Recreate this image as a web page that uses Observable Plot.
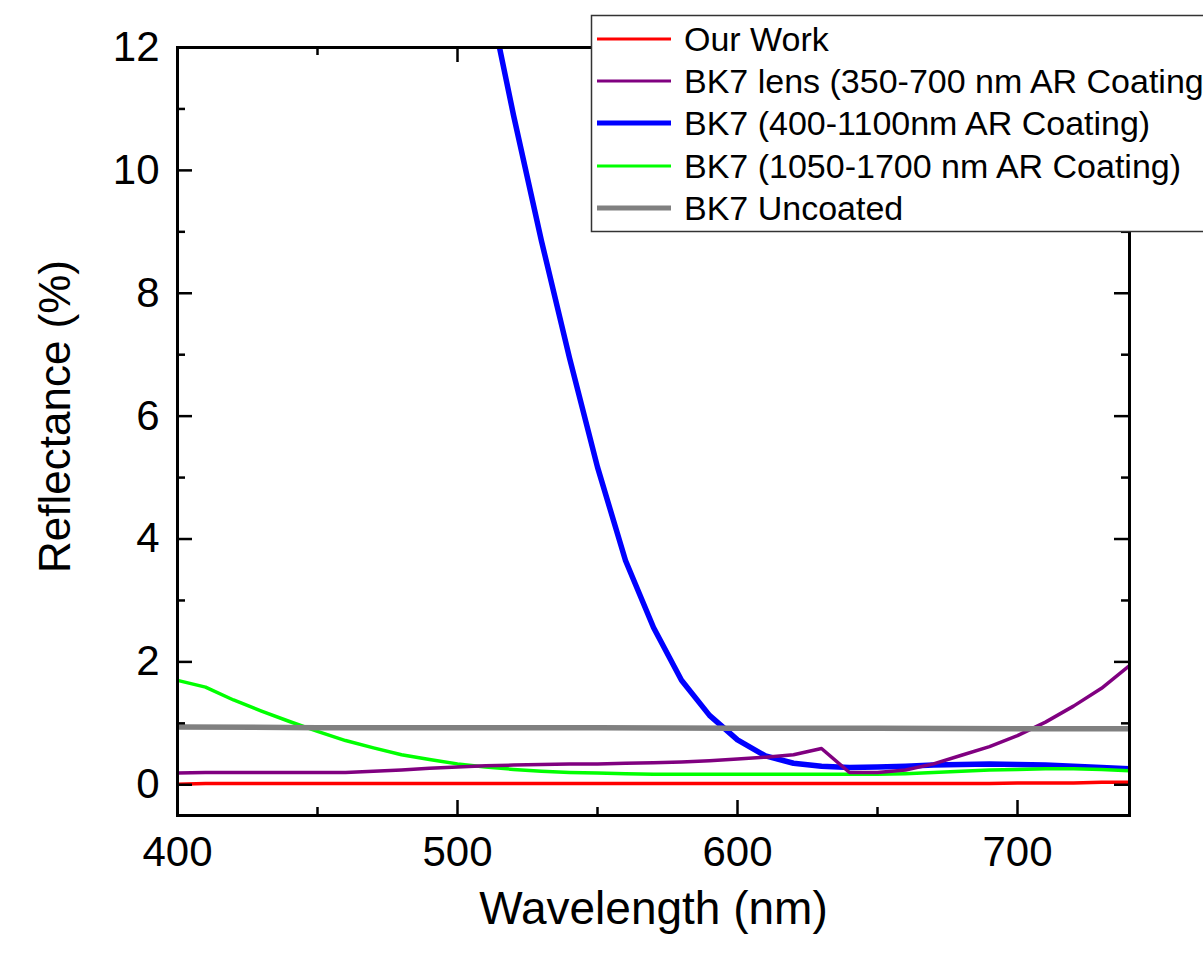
<!DOCTYPE html>
<html><head><meta charset="utf-8">
<script src="https://cdn.jsdelivr.net/npm/d3@7"></script>
<script src="https://cdn.jsdelivr.net/npm/@observablehq/plot@0.6"></script>
<style>
body{margin:0;background:#fff;overflow:hidden;}
#wrap{position:relative;width:1203px;height:954px;overflow:hidden;}
#wrap svg{position:absolute;left:0;top:0;}
</style></head><body><div id="wrap"></div>
<script>
// ---- data ----
const wavelengths = [400,410,420,430,440,450,460,470,480,490,500,510,520,530,540,550,560,570,580,590,600,610,620,630,640,650,660,670,680,690,700,710,720,730,740];
const ourWork = [0.01,0.02,0.02,0.02,0.02,0.02,0.02,0.02,0.02,0.02,0.02,0.02,0.02,0.02,0.02,0.02,0.02,0.02,0.02,0.02,0.02,0.02,0.02,0.02,0.02,0.02,0.02,0.02,0.02,0.02,0.03,0.03,0.03,0.04,0.04];
const lens350_700 = [0.19,0.20,0.20,0.20,0.20,0.20,0.20,0.22,0.24,0.27,0.29,0.31,0.32,0.33,0.34,0.34,0.35,0.36,0.37,0.39,0.42,0.45,0.49,0.59,0.20,0.20,0.24,0.34,0.48,0.62,0.80,1.02,1.28,1.57,1.94];
const ar1050_1700 = [1.70,1.59,1.38,1.20,1.03,0.87,0.72,0.60,0.49,0.41,0.34,0.29,0.25,0.22,0.20,0.19,0.18,0.17,0.17,0.17,0.17,0.17,0.17,0.17,0.17,0.17,0.18,0.20,0.22,0.24,0.25,0.26,0.26,0.25,0.23];
const ar400_1100Wl = [510,520,530,540,550,560,570,580,590,600,610,620,630,640,650,660,670,680,690,700,710,720,730,740];
const ar400_1100 = [13.1,10.9,8.85,6.95,5.17,3.65,2.56,1.70,1.13,0.73,0.47,0.35,0.30,0.28,0.29,0.30,0.32,0.33,0.34,0.33,0.32,0.30,0.28,0.26];
const uncoatedWl = [400,450,500,550,600,650,700,740];
const uncoated = [0.94,0.93,0.93,0.93,0.92,0.92,0.91,0.91];

const seriesNames = ["Our Work","BK7 lens (350-700 nm AR Coating)","BK7 (400-1100nm AR Coating)","BK7 (1050-1700 nm AR Coating)","BK7 Uncoated"];
const seriesColors = ["#ff0000","#800080","#0000ff","#00ff00","#808080"];
const seriesWidths = [3.5,3.5,5.5,3.5,5.5];

const xMajor = [400,500,600,700];
const xMinor = [450,550,650];
const yMajor = [0,2,4,6,8,10,12];
const yMinor = [1,3,5,7,9,11];

// ---- tables ----
const toRows = (name, wl, vals) => wl.map((w,i)=>({series:name, wl:w, r:vals[i]}));
const rows = [
  ...toRows(seriesNames[0], wavelengths, ourWork),
  ...toRows(seriesNames[1], wavelengths, lens350_700),
  ...toRows(seriesNames[2], ar400_1100Wl, ar400_1100),
  ...toRows(seriesNames[3], wavelengths, ar1050_1700),
  ...toRows(seriesNames[4], uncoatedWl, uncoated)
];
const drawOrder = [0,2,3,1,4];

const W=1203, H=954, mL=177, mR=74, mT=47, mB=139;
const fw = W-mL-mR, fh = H-mT-mB;
const font = "'Liberation Sans', Arial, Helvetica, sans-serif";

const chart = Plot.plot({
  width:W, height:H, marginLeft:mL, marginRight:mR, marginTop:mT, marginBottom:mB,
  style:{fontFamily:font, background:"white", color:"black"},
  x:{domain:[400,740]},
  y:{domain:[-0.5,12]},
  marks:[
    ...drawOrder.map(k => Plot.line(rows.filter(d=>d.series===seriesNames[k]), {
      x:"wl", y:"r", stroke:seriesColors[k], strokeWidth:seriesWidths[k], clip:"frame", curve:"linear"
    })),
    Plot.frame({stroke:"black", strokeWidth:3}),
    Plot.tickY(yMajor, {y:d=>d, insetRight:fw-15, strokeWidth:2.5}),
    Plot.tickY(yMajor, {y:d=>d, insetLeft:fw-15, strokeWidth:2.5}),
    Plot.tickY(yMinor, {y:d=>d, insetRight:fw-8, strokeWidth:2.5}),
    Plot.tickY(yMinor, {y:d=>d, insetLeft:fw-8, strokeWidth:2.5}),
    Plot.tickX(xMajor, {x:d=>d, insetTop:fh-15, strokeWidth:2.5}),
    Plot.tickX(xMajor, {x:d=>d, insetBottom:fh-15, strokeWidth:2.5}),
    Plot.tickX(xMinor, {x:d=>d, insetTop:fh-8, strokeWidth:2.5}),
    Plot.tickX(xMinor, {x:d=>d, insetBottom:fh-8, strokeWidth:2.5}),
    Plot.axisX({ticks:xMajor, tickSize:0, tickPadding:21, fontSize:42, label:null}),
    Plot.axisY({ticks:yMajor, tickSize:0, tickPadding:18, fontSize:42, label:null}),
    Plot.text(["Wavelength (nm)"], {text:d=>d, frameAnchor:"bottom", dy:108, fontSize:46, textAnchor:"middle"}),
    Plot.text(["Reflectance (%)"], {text:d=>d, frameAnchor:"left", dx:-122, dy:-15, rotate:-90, fontSize:44, textAnchor:"middle", lineAnchor:"middle"})
  ]
});
document.getElementById("wrap").appendChild(chart);

// ---- legend overlay ----
const lg = d3.select("#wrap").append("svg").attr("width",W).attr("height",H).style("pointer-events","none");
lg.append("rect").attr("x",591.5).attr("y",15.5).attr("width",700).attr("height",216)
  .attr("fill","white").attr("stroke","#333").attr("stroke-width",1.5);
const rowY = [39,81,123,166,208];
seriesNames.forEach((name,i)=>{
  lg.append("line").attr("x1",597).attr("x2",671).attr("y1",rowY[i]).attr("y2",rowY[i])
    .attr("stroke",seriesColors[i]).attr("stroke-width",seriesWidths[i]-0.5);
  lg.append("text").attr("x",684).attr("y",rowY[i]).attr("dominant-baseline","central")
    .attr("font-family",font).attr("font-size",34).attr("fill","black").text(name);
});
</script></body></html>
